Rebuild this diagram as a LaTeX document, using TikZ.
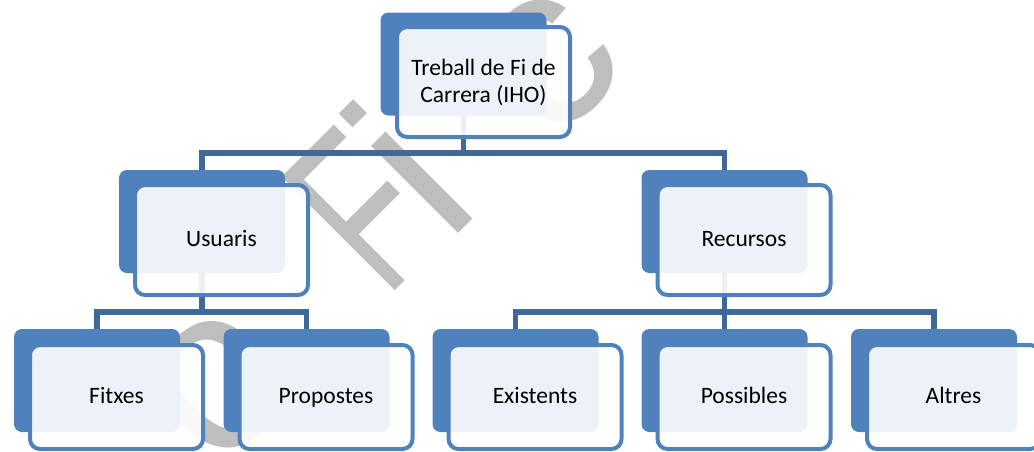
\documentclass[tikz,border=0pt]{standalone}
\usepackage{fontspec}
\setmainfont{Carlito}
\newfontfamily\wmfont{Liberation Sans}
\usetikzlibrary{backgrounds}
\definecolor{boxblue}{RGB}{79,129,189}
\definecolor{connblue}{RGB}{64,104,153}
\definecolor{wmgray}{RGB}{190,190,190}
\pgfdeclarelayer{wmlayer}
\pgfdeclarelayer{connlayer}
\pgfsetlayers{wmlayer,connlayer,main}
\begin{document}
\begin{tikzpicture}[x=1pt,y=-1pt,
  backbox/.style={fill=boxblue, rounded corners=8pt, minimum width=166pt, minimum height=103pt, inner sep=0pt},
  frontbox/.style={draw=boxblue, line width=4pt, fill=white, fill opacity=0.9, text opacity=1,
    rounded corners=10pt, minimum width=173pt, minimum height=110pt, inner sep=0pt, align=center,
    font=\fontsize{23.5}{27}\selectfont},
  onefront/.style={frontbox, text height=18pt, text depth=5pt},
  leaffront/.style={onefront, minimum height=104pt},
  conn/.style={draw=connblue, line width=5.5pt},
  wm/.style={text=wmgray, rotate=45, inner sep=0pt, font=\wmfont\fontsize{233}{233}\selectfont}]
\useasboundingbox (0,0) rectangle (1034,451);
\clip (0,0) rectangle (1034,451);
% boxes
\node[backbox] (tb) at (463.5,64) {};
\node[frontbox] (tf) at (483.5,82) {Treball de Fi de\\Carrera (IHO)};
\node[backbox] (ub) at (202,221.5) {};
\node[onefront] (uf) at (221.5,240) {Usuaris};
\node[backbox] (rb) at (724.5,221.5) {};
\node[onefront] (rf) at (744,240) {Recursos};
\node[backbox] (fb) at (97,380.5) {};
\node[leaffront] (ff) at (116.5,397) {Fitxes};
\node[backbox] (pb) at (306.5,380.5) {};
\node[leaffront] (pf) at (326,397) {Propostes};
\node[backbox] (eb) at (515.5,380.5) {};
\node[leaffront] (ef) at (535,397) {Existents};
\node[backbox] (sb) at (724.5,380.5) {};
\node[leaffront] (sf) at (744,397) {Possibles};
\node[backbox] (ab) at (934,380.5) {};
\node[leaffront] (af) at (953.5,397) {Altres};
% connectors
\begin{pgfonlayer}{connlayer}
\draw[conn] (tb.south) -- (tb.south |- 0,153);
\draw[conn] (ub.north) |- (rb.north |- 0,153) -- (rb.north);
\draw[conn] (ub.south) -- (ub.south |- 0,312);
\draw[conn] (fb.north) |- (pb.north |- 0,312) -- (pb.north);
\draw[conn] (rb.south) -- (rb.south |- 0,312);
\draw[conn] (eb.north) |- (ab.north |- 0,312) -- (ab.north);
\draw[conn] (sb.north) -- (sb.north |- 0,312);
\end{pgfonlayer}
% watermark
\begin{pgfonlayer}{wmlayer}
\node[wm] (w1) at (219.7,385.5) {o};
\node[wm] (w2) at (362.5,210) {\scalebox{0.65}[1]{F}};
\node[wm] (w3) at (406.4,166.3) {i};
\node[wm] (w4) at (549,64) {c};
\end{pgfonlayer}
\end{tikzpicture}
\end{document}
